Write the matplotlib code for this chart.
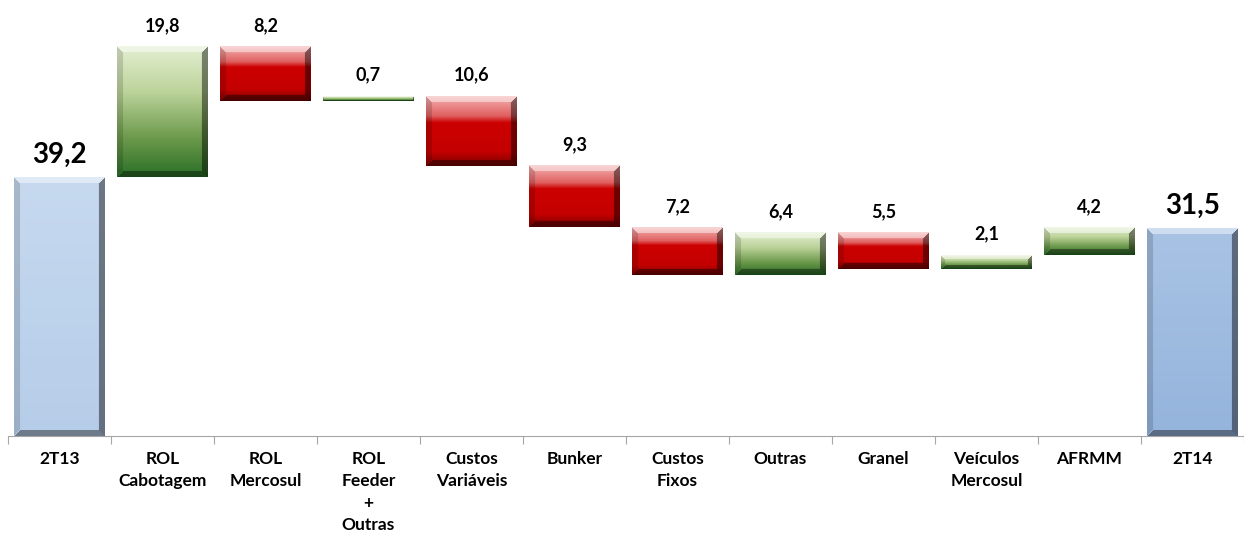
import numpy as np
import matplotlib
matplotlib.use('Agg')
import matplotlib.pyplot as plt
from matplotlib.colors import to_rgb

categories = ["2T13", "ROL\nCabotagem", "ROL\nMercosul", "ROL\nFeeder\n+\nOutras",
              "Custos\nVariáveis", "Bunker", "Custos\nFixos", "Outras", "Granel",
              "Veículos\nMercosul", "AFRMM", "2T14"]
start_value = 39.2
deltas = [19.8, -8.2, 0.7, -10.6, -9.3, -7.2, 6.4, -5.5, 2.1, 4.2]
end_value = 31.5

plt.rcParams['font.family'] = ['Lato', 'DejaVu Sans']

W, H = 1244, 534
fig = plt.figure(figsize=(W / 100, H / 100), dpi=100)
ax = fig.add_axes([8 / W, 98 / H, 1236 / W, 429 / H])
ax.set_xlim(-0.5, len(categories) - 0.5)
ax.set_ylim(0, 65)
px_per_unit = 429 / 65
bar_w = 0.88
bar_px = int(bar_w * 1236 / len(categories))


def vertical(stops, n):
    # stops: list of (pos, color) from top (0) to bottom (1)
    t = np.linspace(0, 1, n)
    out = np.zeros((n, 3))
    pos = [s[0] for s in stops]
    for ch in range(3):
        out[:, ch] = np.interp(t, pos, [to_rgb(s[1])[ch] for s in stops])
    return out


def bevel_bar(x, y0, y1, stops):
    lo, hi = min(y0, y1), max(y0, y1)
    hpx = max(int(round((hi - lo) * px_per_unit)), 3)
    wpx = bar_px
    col = vertical(stops, hpx)
    img = np.repeat(col[:, None, :], wpx, axis=1)
    b = min(6, hpx // 3)
    yy, xx = np.mgrid[0:hpx, 0:wpx]
    dist_top = yy
    dist_bot = hpx - 1 - yy
    dist_left = xx
    dist_right = wpx - 1 - xx
    white = np.ones(3)
    black = np.zeros(3)
    # top bevel lighter, right/bottom darker, left slightly darker
    m_top = (dist_top < b) & (dist_top <= dist_left) & (dist_top <= dist_right)
    img[m_top] = img[m_top] * 0.55 + white * 0.45
    m_right = (dist_right < b) & (dist_right < dist_top) & (dist_right <= dist_bot)
    img[m_right] = img[m_right] * 0.55 + black * 0.45
    m_bot = (dist_bot < b) & (dist_bot < dist_left) & (dist_bot < dist_right) & ~m_top
    img[m_bot] = img[m_bot] * 0.6 + black * 0.4
    m_left = (dist_left < b) & (dist_left < dist_top) & (dist_left < dist_bot)
    img[m_left] = img[m_left] * 0.85 + black * 0.15
    ax.imshow(img, extent=(x - bar_w / 2, x + bar_w / 2, lo, hi),
              aspect='auto', interpolation='bilinear', zorder=3)


green = [(0, "#e4efd2"), (0.35, "#bcd39a"), (0.7, "#6d9a4c"), (1, "#2b7028")]
red = [(0, "#f3b0b0"), (0.28, "#e06060"), (0.38, "#cc0000"), (0.8, "#c40000"), (1, "#7a0000")]
blue1 = [(0, "#c6d9ef"), (1, "#b6cde9")]
blue2 = [(0, "#a8c3e4"), (1, "#95b4dc")]

# bars
bevel_bar(0, 0, start_value, blue1)
ax.annotate(f"{start_value:.1f}".replace(".", ","), (0, start_value), xytext=(0, 7),
            textcoords='offset points', ha='center', va='bottom',
            fontsize=20, fontweight='bold')
level = start_value
for i, d in enumerate(deltas, start=1):
    new = level + d
    bevel_bar(i, level, new, green if d > 0 else red)
    ax.annotate(f"{abs(d):.1f}".replace(".", ","), (i, max(level, new)), xytext=(0, 9),
                textcoords='offset points', ha='center', va='bottom',
                fontsize=13, fontweight='bold')
    level = new
n = len(categories) - 1
bevel_bar(n, 0, end_value, blue2)
ax.annotate(f"{end_value:.1f}".replace(".", ","), (n, end_value), xytext=(0, 7),
            textcoords='offset points', ha='center', va='bottom',
            fontsize=20, fontweight='bold')

# axis styling
for s in ['top', 'right', 'left']:
    ax.spines[s].set_visible(False)
ax.spines['bottom'].set_color('#a6a6a6')
ax.set_yticks([])
ax.set_xticks(np.arange(-0.5, len(categories) + 0.5, 1))
ax.set_xticklabels([])
ax.tick_params(axis='x', length=6, color='#a6a6a6')
for i, c in enumerate(categories):
    ax.text(i, -2.3, c, ha='center', va='top', fontsize=12.5, fontweight='bold',
            linespacing=1.45)

fig.savefig("out.png", dpi=100)
